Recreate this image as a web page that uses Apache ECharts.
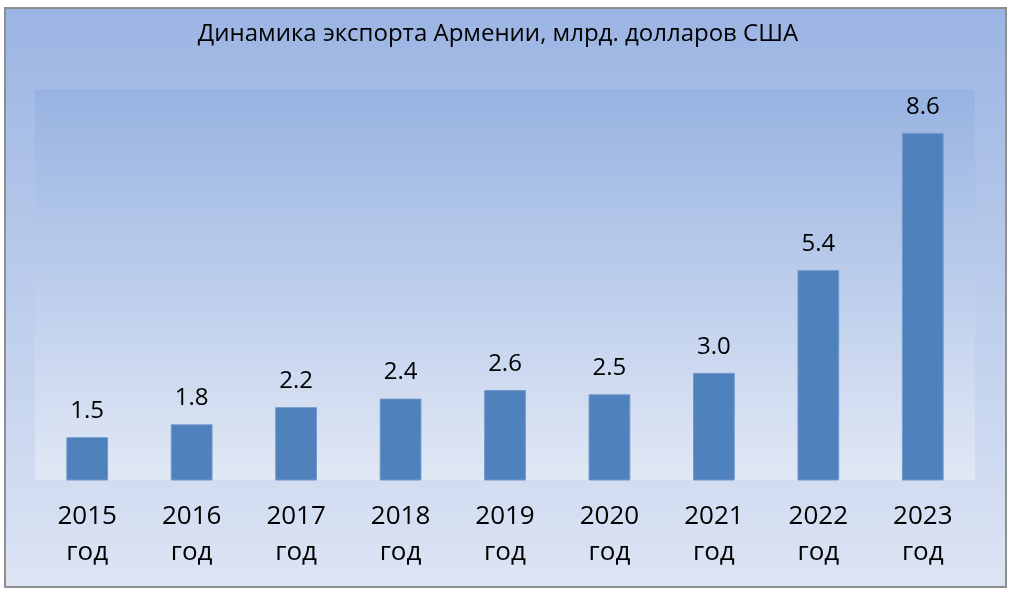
<!DOCTYPE html>
<html><head><meta charset="utf-8">
<script src="https://cdn.jsdelivr.net/npm/echarts@6/dist/echarts.min.js"></script>
<style>html,body{margin:0;padding:0;background:#fff}#c{width:1014px;height:595px}</style>
</head><body><div id="c"></div>
<script>
const titleText = 'Динамика экспорта Армении, млрд. долларов США';
const years = ['2015', '2016', '2017', '2018', '2019', '2020', '2021', '2022', '2023'];
const categories = years.map(y => y + '\nгод');
const exportValues = [1.5, 1.8, 2.2, 2.4, 2.6, 2.5, 3.0, 5.4, 8.6];
const axisMin = 0.5;
const axisMax = 9.6;

const FONT = '"Open Sans", "Noto Sans", sans-serif';
const chart = echarts.init(document.getElementById('c'), null, {renderer: 'canvas'});
chart.setOption({
  animation: false,
  graphic: [
    {type: 'rect', z: -10, shape: {x: 5, y: 8, width: 1001, height: 579},
     style: {fill: new echarts.graphic.LinearGradient(0, 0, 0, 1, [
       {offset: 0, color: '#9bb4e3'}, {offset: 1, color: '#dde5f4'}]),
       stroke: '#8f8f8f', lineWidth: 2}},
    {type: 'text', x: 498, y: 34, z: 5,
     style: {text: titleText, fill: '#000', font: '24px ' + FONT, textAlign: 'center', textVerticalAlign: 'middle'}}
  ],
  grid: {left: 35, top: 90, width: 940, height: 390, show: true, borderWidth: 0,
    backgroundColor: new echarts.graphic.LinearGradient(0, 0, 0, 1, [
      {offset: 0, color: '#98b3e2'}, {offset: 1, color: '#e1e8f5'}])},
  xAxis: {type: 'category', data: categories,
    axisLine: {show: false}, axisTick: {show: false},
    axisLabel: {fontSize: 26, lineHeight: 36, color: '#000', fontFamily: FONT, margin: 19, interval: 0}},
  yAxis: {type: 'value', min: axisMin, max: axisMax, show: false, splitLine: {show: false}},
  series: [{type: 'bar', data: exportValues, barWidth: '40%',
    itemStyle: {color: '#4f81bd', borderColor: '#7399cc', borderWidth: 1},
    label: {show: true, position: 'top', distance: 14, fontSize: 24, color: '#000', fontFamily: FONT,
      formatter: p => p.value.toFixed(1)}}]
});
</script></body></html>
